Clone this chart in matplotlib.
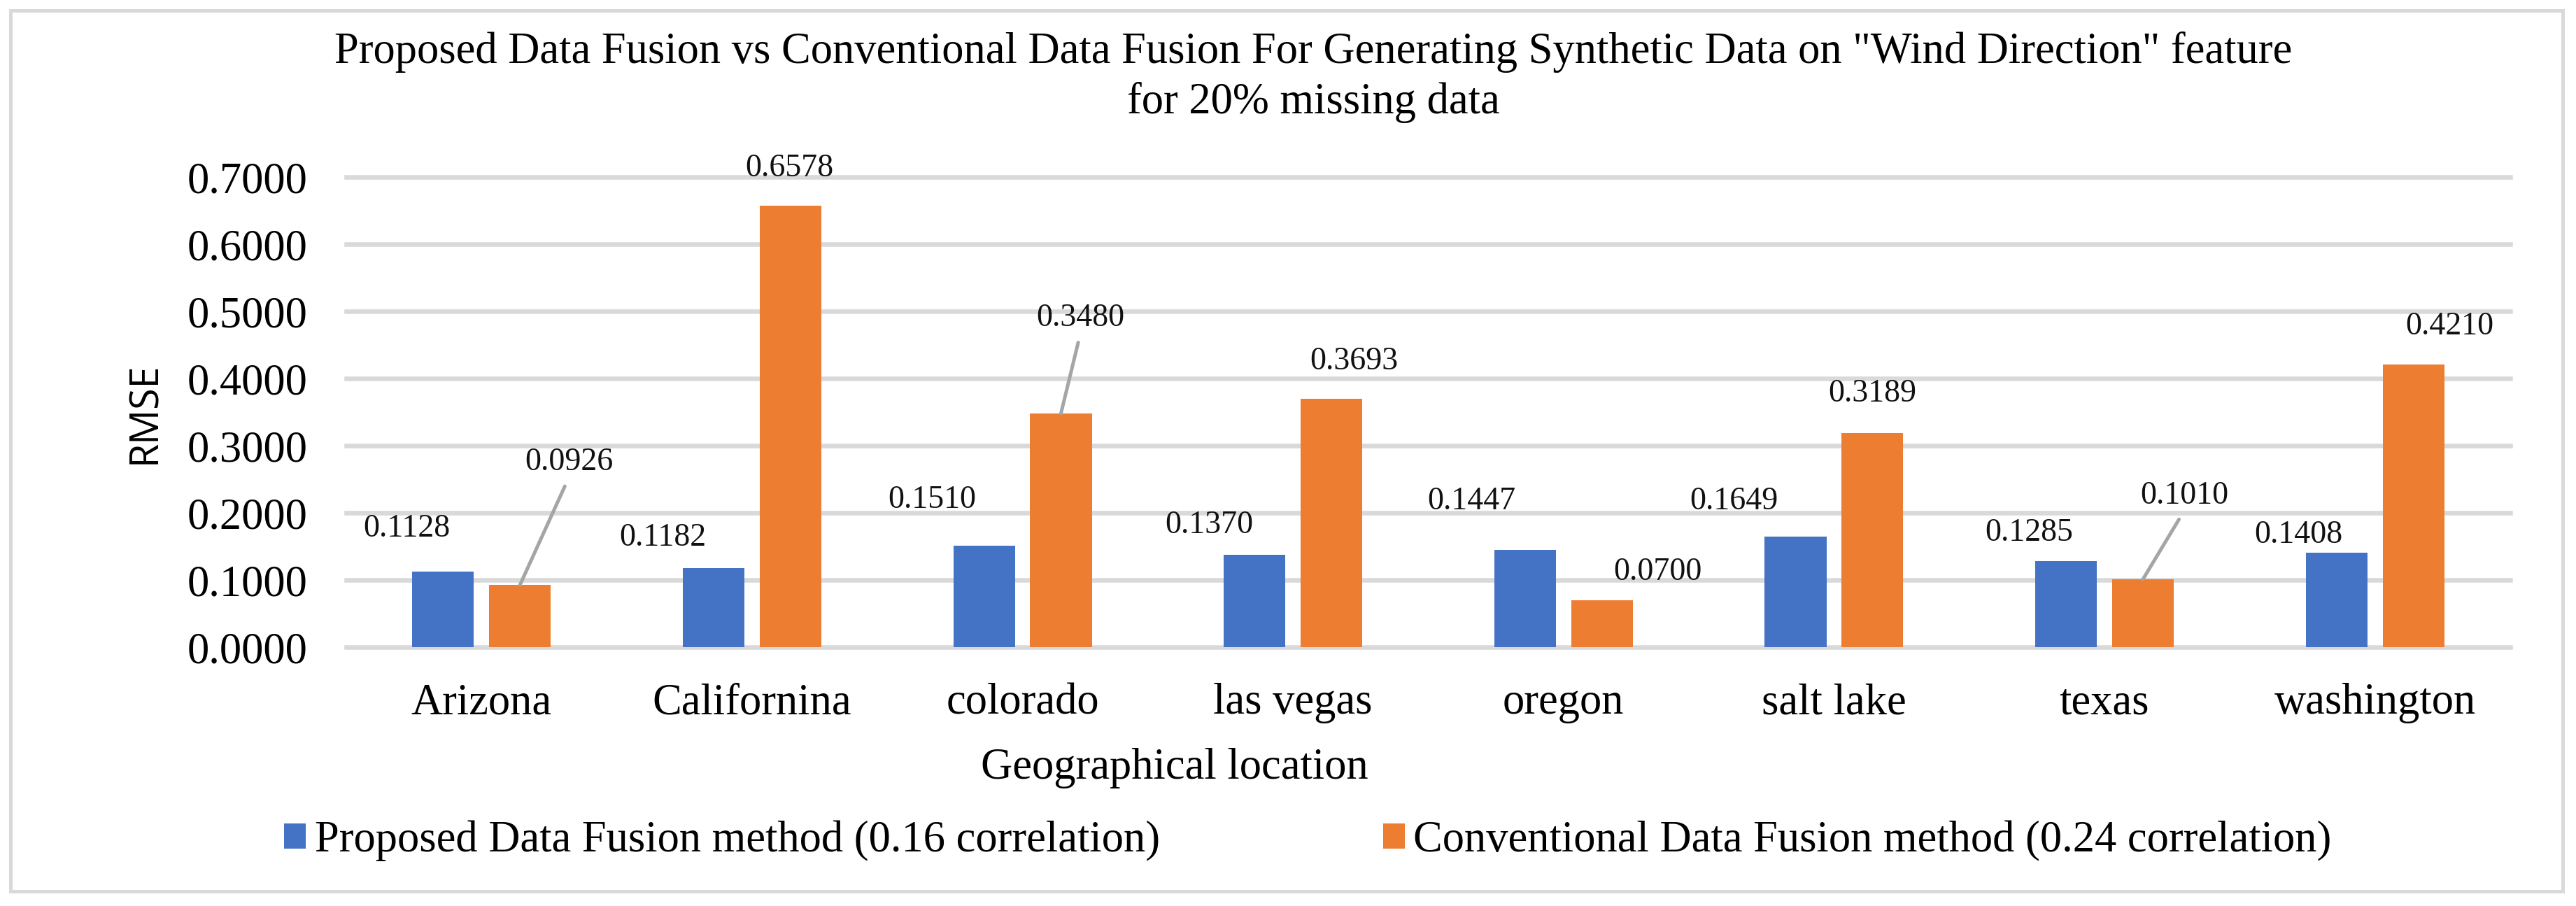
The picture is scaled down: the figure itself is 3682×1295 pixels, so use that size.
import matplotlib
matplotlib.use('Agg')
import matplotlib.pyplot as plt
import numpy as np
from matplotlib.patches import Rectangle

plt.rcParams['font.family'] = ['Liberation Serif', 'DejaVu Serif']

locations = ['Arizona', 'Californina', 'colorado', 'las vegas', 'oregon',
             'salt lake', 'texas', 'washington']
proposed = [0.1128, 0.1182, 0.1510, 0.1370, 0.1447, 0.1649, 0.1285, 0.1408]
conventional = [0.0926, 0.6578, 0.3480, 0.3693, 0.0700, 0.3189, 0.1010, 0.4210]
proposed_name = 'Proposed Data Fusion method (0.16 correlation)'
conventional_name = 'Conventional Data Fusion method (0.24 correlation)'
yticks = [0.0, 0.1, 0.2, 0.3, 0.4, 0.5, 0.6, 0.7]

# where the data labels sit, pixels from the top centre of each bar (label centre)
proposed_lbl = [(-52, 66), (-73, 48), (-74, 70), (-65, 47), (-77, 74), (-88, 55), (-53, 45), (-54, 30)]
conventional_lbl = [(70, 180), (-2, 58), (28, 141), (32, 58), (80, 45), (0, 61), (59, 124), (52, 59)]
conventional_leader = [True, False, True, False, False, False, True, False]

W, H = 3682, 1295
fig = plt.figure(figsize=(W / 100, H / 100), dpi=100)
ax = fig.add_axes([495 / W, 1 - 925 / H, 3093 / W, 672 / H])

x = np.arange(len(locations))
bw = 0.228
off = 0.142
b1 = ax.bar(x - off, proposed, bw, color='#4472C4', label=proposed_name, zorder=2)
b2 = ax.bar(x + off, conventional, bw, color='#ED7D31', label=conventional_name, zorder=2)

ax.set_xlim(-0.5, len(locations) - 0.5)
ax.set_ylim(0, 0.7)
ax.set_yticks(yticks)
ax.set_yticklabels(['%.4f' % t for t in yticks])
ax.set_xticks(x)
ax.set_xticklabels(locations)
ax.tick_params(axis='y', length=0, pad=40, labelsize=45)
ax.tick_params(axis='x', length=0, pad=37, labelsize=45)
ax.yaxis.grid(True, color='#D9D9D9', linewidth=4.7)
for gl in ax.get_ygridlines():
    gl.set_clip_on(False)
ax.set_axisbelow(True)
for s in ax.spines.values():
    s.set_visible(False)


def put_labels(bars, vals, offs, leaders):
    for bar, v, (dx, dy), lead in zip(bars, vals, offs, leaders):
        cx = bar.get_x() + bar.get_width() / 2
        kw = {}
        if lead:
            kw['arrowprops'] = dict(arrowstyle='-', color='#A5A5A5', lw=3.6,
                                    shrinkA=8, shrinkB=0, relpos=(0.5, 0))
        ax.annotate('%.4f' % v, xy=(cx, v), xytext=(dx, dy - 16),
                    textcoords='offset pixels', ha='center', va='baseline',
                    fontsize=33, color='#111111', **kw)


put_labels(b1, proposed, proposed_lbl, [False] * len(proposed))
put_labels(b2, conventional, conventional_lbl, conventional_leader)

fig.text(1877 / W, 1 - 90 / H,
         'Proposed Data Fusion vs Conventional Data Fusion For Generating Synthetic Data on "Wind Direction" feature',
         ha='center', va='baseline', fontsize=45)
fig.text(1877 / W, 1 - 162 / H, 'for 20% missing data',
         ha='center', va='baseline', fontsize=45)

fig.text(208 / W, 1 - 590 / H, 'RMSE', rotation=90, ha='center', va='center',
         fontsize=40, family=['Open Sans', 'DejaVu Sans'])
fig.text(1679 / W, 1 - 1113 / H, 'Geographical location', ha='center', va='baseline',
         fontsize=45)

fig.legend(handles=[b1, b2], labels=[proposed_name, conventional_name],
           loc='center left', bbox_to_anchor=(406 / W, 1 - 1202 / H), ncol=2,
           frameon=False, fontsize=45, handlelength=0.5, handleheight=0.5,
           handletextpad=0.2, columnspacing=5.1, borderpad=0, borderaxespad=0)

fig.patches.append(Rectangle((14.5 / W, 1 - 1273.5 / H), 3648 / W, 1259 / H,
                             transform=fig.transFigure, fill=False,
                             edgecolor='#D9D9D9', linewidth=3.6))

fig.savefig('out.png', dpi=100)
